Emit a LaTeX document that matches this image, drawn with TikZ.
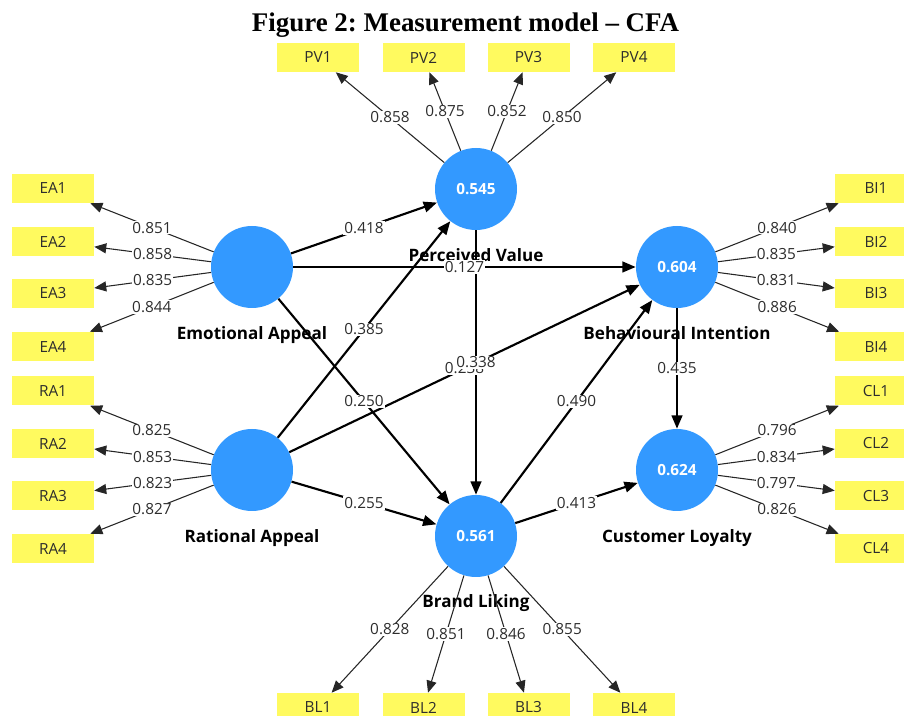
\documentclass[tikz,border=0pt]{standalone}
\usepackage{fontspec}
\setmainfont{Open Sans}
\newfontfamily\titlefont{Liberation Serif}
\usetikzlibrary{arrows.meta}
\definecolor{lvblue}{RGB}{51,153,255}
\definecolor{indyellow}{RGB}{255,250,95}
\definecolor{txt}{RGB}{45,45,45}
\frenchspacing
\begin{document}
\begin{tikzpicture}[x=0.75pt,y=-0.75pt,
  lv/.style={circle, fill=lvblue, minimum size=61.5pt, inner sep=0pt, text=white,
    font=\bfseries\fontsize{11.5}{12}\selectfont},
  ind/.style={rectangle, fill=indyellow, minimum width=61.5pt, minimum height=21.75pt,
    inner sep=0pt, text=txt, font=\fontsize{11.5}{12}\selectfont},
  lvname/.style={anchor=base, text=black, font=\bfseries\fontsize{12.8}{14}\selectfont},
  load/.style={-{Triangle[length=9pt,width=7.5pt]}, line width=0.8pt, draw=black!85},
  struct/.style={-{Triangle[length=10pt,width=8pt]}, line width=1.6pt, draw=black},
  lbl/.style={fill=white, inner sep=0.8pt, text=txt, font=\fontsize{11.5}{12}\selectfont},
]
\useasboundingbox (0,0) rectangle (904,716);

% title
\node[anchor=base, font=\titlefont\bfseries\fontsize{20.2}{22}\selectfont] (title) at (465.5,32) {Figure 2: Measurement model – CFA};

% latent variables
\node[lv] (PV) at (476,189) {0.545};
\node[lv] (EA) at (252,267) {};
\node[lv] (RA) at (252,470) {};
\node[lv] (BI) at (677,267) {0.604};
\node[lv] (CL) at (677,470) {0.624};
\node[lv] (BL) at (476,536) {0.561};

% names
\node[lvname] (nPV) at (476,262) {Perceived Value};
\node[lvname] (nEA) at (252,340) {Emotional Appeal};
\node[lvname] (nRA) at (252,543) {Rational Appeal};
\node[lvname] (nBI) at (677,340) {Behavioural Intention};
\node[lvname] (nCL) at (677,543) {Customer Loyalty};
\node[lvname] (nBL) at (476,608) {Brand Liking};

% indicators
\node[ind] (pv1) at (318,57.5) {PV1};
\node[ind] (pv2) at (423.5,57.5) {PV2};
\node[ind] (pv3) at (528.5,57.5) {PV3};
\node[ind] (pv4) at (634,57.5) {PV4};
\node[ind] (ea1) at (53,188.5) {EA1};
\node[ind] (ea2) at (53,241.5) {EA2};
\node[ind] (ea3) at (53,293.5) {EA3};
\node[ind] (ea4) at (53,346.5) {EA4};
\node[ind] (ra1) at (53,391) {RA1};
\node[ind] (ra2) at (53,443.5) {RA2};
\node[ind] (ra3) at (53,496) {RA3};
\node[ind] (ra4) at (53,548.5) {RA4};
\node[ind] (bi1) at (876,188.5) {BI1};
\node[ind] (bi2) at (876,241.5) {BI2};
\node[ind] (bi3) at (876,293.5) {BI3};
\node[ind] (bi4) at (876,346.5) {BI4};
\node[ind] (cl1) at (876,391) {CL1};
\node[ind] (cl2) at (876,443.5) {CL2};
\node[ind] (cl3) at (876,496) {CL3};
\node[ind] (cl4) at (876,548.5) {CL4};
\node[ind] (bl1) at (318,707.5) {BL1};
\node[ind] (bl2) at (423.5,707.5) {BL2};
\node[ind] (bl3) at (528.5,707.5) {BL3};
\node[ind] (bl4) at (634,707.5) {BL4};

% structural paths
\draw[struct] (EA) -- coordinate[midway] (mEAPV) (PV);
\draw[struct] (EA) -- coordinate[midway] (mEABI) (BI);
\draw[struct] (EA) -- coordinate[midway] (mEABL) (BL);
\draw[struct] (RA) -- coordinate[midway] (mRAPV) (PV);
\draw[struct] (RA) -- coordinate[midway] (mRABI) (BI);
\draw[struct] (RA) -- coordinate[midway] (mRABL) (BL);
\draw[struct] (PV) -- coordinate[midway] (mPVBL) (BL);
\draw[struct] (BL) -- coordinate[midway] (mBLBI) (BI);
\draw[struct] (BL) -- coordinate[midway] (mBLCL) (CL);
\draw[struct] (BI) -- coordinate[midway] (mBICL) (CL);

\node[lbl] (lEAPV) at (mEAPV) {0.418};
\node[lbl] (lEABI) at (mEABI) {0.127};
\node[lbl] (lEABL) at (mEABL) {0.250};
\node[lbl] (lRAPV) at (mRAPV) {0.385};
\node[lbl] (lRABI) at (mRABI) {0.238};
\node[lbl] (lRABL) at (mRABL) {0.255};
\node[lbl] (lPVBL) at (mPVBL) {0.338};
\node[lbl] (lBLBI) at (mBLBI) {0.490};
\node[lbl] (lBLCL) at (mBLCL) {0.413};
\node[lbl] (lBICL) at (mBICL) {0.435};

% loadings
\draw[load] (PV) -- node[lbl]{0.858} (pv1);
\draw[load] (PV) -- node[lbl]{0.875} (pv2);
\draw[load] (PV) -- node[lbl]{0.852} (pv3);
\draw[load] (PV) -- node[lbl]{0.850} (pv4);
\draw[load] (EA) -- node[lbl]{0.851} (ea1);
\draw[load] (EA) -- node[lbl]{0.858} (ea2);
\draw[load] (EA) -- node[lbl]{0.835} (ea3);
\draw[load] (EA) -- node[lbl]{0.844} (ea4);
\draw[load] (RA) -- node[lbl]{0.825} (ra1);
\draw[load] (RA) -- node[lbl]{0.853} (ra2);
\draw[load] (RA) -- node[lbl]{0.823} (ra3);
\draw[load] (RA) -- node[lbl]{0.827} (ra4);
\draw[load] (BI) -- node[lbl]{0.840} (bi1);
\draw[load] (BI) -- node[lbl]{0.835} (bi2);
\draw[load] (BI) -- node[lbl]{0.831} (bi3);
\draw[load] (BI) -- node[lbl]{0.886} (bi4);
\draw[load] (CL) -- node[lbl]{0.796} (cl1);
\draw[load] (CL) -- node[lbl]{0.834} (cl2);
\draw[load] (CL) -- node[lbl]{0.797} (cl3);
\draw[load] (CL) -- node[lbl]{0.826} (cl4);
\draw[load] (BL) -- node[lbl]{0.828} (bl1);
\draw[load] (BL) -- node[lbl]{0.851} (bl2);
\draw[load] (BL) -- node[lbl]{0.846} (bl3);
\draw[load] (BL) -- node[lbl]{0.855} (bl4);
\end{tikzpicture}
\end{document}
